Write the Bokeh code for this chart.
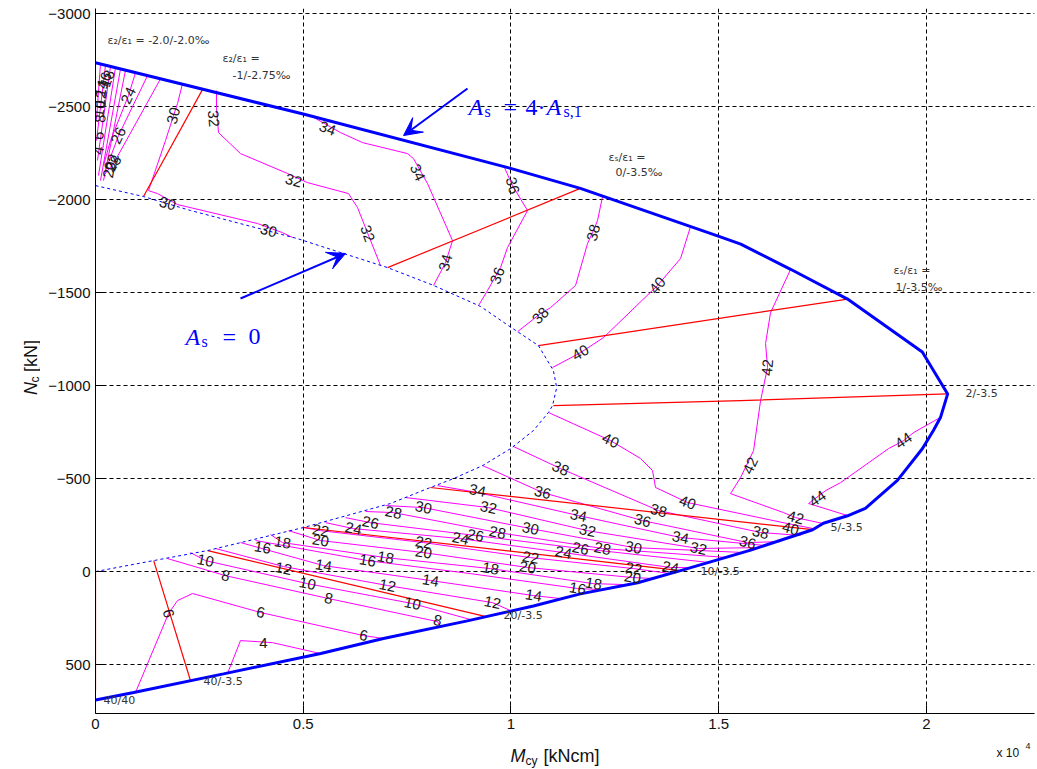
import numpy as np
from bokeh.plotting import figure
from bokeh.layouts import row, column
from bokeh.models import Range1d, FixedTicker, Label, Arrow, VeeHead, ColumnDataSource
from bokeh.core.properties import value
from bokeh.embed import file_html
from bokeh.resources import INLINE

# ---- interaction diagram, moments M_cy [kNcm] and axial forces N_c [kN] ----

# boundary for A_s = 4*A_s,1
outer_m = [0, 5000, 9950, 11670, 14970, 15530, 16730, 18100, 19900, 20510, 20340, 20170,
           19900, 19300, 18530, 18100, 17520, 17260, 15770, 14080, 13050, 11670, 10540,
           8950, 6930, 5420, 3080, 920, 0]
outer_n = [-2735, -2460, -2170, -2060, -1805, -1760, -1625, -1465, -1180, -955, -830, -760,
           -660, -490, -340, -300, -260, -225, -115, -5, 60, 120, 185,
           265, 360, 440, 550, 650, 690]

# boundary for A_s = 0
inner_m = [0, 1155, 2290, 4860, 5970, 7030, 8140, 9270, 9940, 10660, 11020, 11100, 11000,
           10900, 10540, 9990, 9320, 8620, 8060, 7100, 5010, 2700, 1400, 0]
inner_n = [-2075, -2016, -1941, -1790, -1710, -1634, -1538, -1425, -1322, -1215, -1081, -989,
           -892, -855, -758, -661, -570, -500, -452, -366, -237, -113, -59, 0]

# strain states eps_s/eps_1 (red lines)
strain_lines = {
    "-1/-2.75": ([2575, 1155], [-2591, -2016]),
    "0/-3.5": ([11670, 7030], [-2060, -1634]),
    "1/-3.5": ([18100, 10660], [-1465, -1215]),
    "2/-3.5": ([20510, 15525, 11020], [-955, -919, -892]),
    "5/-3.5": ([17260, 8060], [-225, -452]),
    "10/-3.5": ([14080, 5010], [-5, -237]),
    "20/-3.5": ([9400, 2700], [242, -113]),
    "40/-3.5": ([2287, 1400], [587, -59]),
    "40/40": ([0, 0], [640, 0]),
}

# contour lines of the reinforcement ratio, crowded corner near pure compression
fan_lines = {
    "a": ([0, 0], [-2760, -2100]),
    "b": ([120, 24], [-2728, -2430]),
    "c": ([241, 24], [-2722, -2317]),
    "d": ([361, 48], [-2715, -2210]),
    "e": ([481, 72], [-2709, -2129]),
    "f": ([602, 120], [-2702, -2102]),
    "g": ([722, 193], [-2695, -2102]),
    "24": ([963, 794, 361, 193], [-2682, -2559, -2317, -2183]),
    "26": ([1252, 554, 241], [-2666, -2344, -2156]),
    "28": ([1565, 433, 193], [-2649, -2193, -2129]),
}

# contour lines in the compression zone
upper_lines = {
    "30": ([2094, 1974, 1877, 1685, 1276, 1492, 1974, 3899, 4501, 4742],
           [-2623, -2516, -2451, -2317, -2048, -2032, -1973, -1871, -1822, -1796]),
    "32": ([2912, 2912, 2961, 3490, 4621, 5103, 6090, 6306, 6860],
           [-2586, -2494, -2360, -2247, -2140, -2091, -2032, -1957, -1645]),
    "34": ([5175, 5897, 6427, 7510, 7654, 7991, 8593, 8425, 8136],
           [-2451, -2360, -2306, -2247, -2220, -2086, -1779, -1661, -1538]),
    "36": ([9821, 10037, 10398, 9917, 9748, 9435, 9219],
           [-2183, -2075, -1941, -1742, -1634, -1511, -1430]),
    "38": ([12203, 12083, 11963, 11842, 11554, 10952, 10711, 10160],
           [-2016, -1887, -1822, -1763, -1538, -1419, -1387, -1290]),
    "40": ([14322, 14081, 13527, 12228, 11674, 11000],
           [-1855, -1683, -1538, -1258, -1177, -1097]),
    "42": ([16729, 16247, 16127, 16175, 16007, 15838, 15525, 15284, 16560, 16849, 17523],
           [-1624, -1392, -1226, -1097, -919, -650, -505, -419, -317, -290, -258]),
    "44": ([20291, 19689, 19449, 19087, 17932, 17571, 17162, 18101],
           [-823, -747, -704, -661, -478, -435, -366, -301]),
}

# contour lines in the tension zone
lower_lines = {
    "4": ([3177, 3490, 4260, 5416], [548, 371, 382, 441]),
    "6": ([963, 1757, 1974, 2335, 3972, 6451, 6932], [650, 226, 156, 118, 220, 344, 360]),
    "8": ([1733, 3129, 5608, 8232, 8304], [-70, 22, 145, 269, 296]),
    "10": ([2287, 2648, 5103, 7630, 9026], [-102, -59, 65, 172, 258]),
    "12": ([2888, 4525, 7028, 9556, 9990], [-124, -27, 75, 167, 210]),
    "14": ([3490, 5488, 8063, 10543, 11192], [-156, -32, 48, 129, 145]),
    "16": ([3851, 6547, 9026, 11602, 12155], [-167, -59, 11, 91, 97]),
    "18": ([4212, 4501, 6980, 9508, 11987, 12757], [-199, -156, -75, -16, 65, 70]),
    "20": ([4646, 5416, 7895, 10398, 12926, 13479], [-220, -167, -102, -22, 32, 38]),
    "22": ([5007, 5416, 7895, 10470, 12950, 13840], [-237, -220, -156, -75, -16, 11]),
    "24": ([5536, 6210, 8786, 11265, 13840, 14322], [-263, -231, -177, -102, -22, -21]),
    "26": ([6018, 6619, 9147, 11674, 14803], [-290, -263, -194, -124, -48]),
    "28": ([6499, 7173, 9676, 12203, 15236], [-323, -317, -210, -124, -75]),
    "30": ([6980, 7895, 10470, 12950, 15646], [-355, -344, -231, -129, -102]),
    "32": ([7462, 9459, 11842, 14514, 16007], [-398, -344, -220, -124, -129]),
    "34": ([8232, 9195, 11626, 14081, 16127], [-462, -425, -301, -183, -140]),
    "36": ([9315, 10759, 13167, 15694, 16488], [-570, -425, -274, -156, -161]),
    "38": ([10061, 11192, 13551, 16007, 16970], [-672, -554, -328, -210, -194]),
    "40": ([10904, 12396, 13118, 13407, 13479, 14249, 16656, 17330],
           [-855, -704, -608, -543, -452, -371, -258, -229]),
}

# contour level labels: text, position and rotation in degrees
label_text = ["24", "26", "28", "30", "32", "30", "30", "32", "32", "34", "34", "34",
              "36", "36", "38", "38", "40", "40", "42", "42", "44", "44", "42",
              "40", "40", "40", "38", "38", "38", "36", "36", "36", "34", "34", "34",
              "32", "32", "32", "30", "30", "30", "28", "28", "28", "26", "26", "26",
              "24", "24", "24", "24", "22", "22", "22", "22", "20", "20", "20", "20",
              "18", "18", "18", "18", "16", "16", "16", "14", "14", "14", "12", "12", "12",
              "10", "10", "10", "8", "8", "8", "6", "6", "6", "4",
              "18", "16", "14", "12", "10", "8", "6", "4", "22", "20"]
label_m = [794, 554, 433, 1877, 2840, 1733, 4164, 4766, 6547, 5584, 7751, 8425,
           10037, 9676, 11987, 10711, 13527, 11674, 16175, 15766, 19449, 17379, 16849,
           12396, 14249, 16729, 11192, 13551, 16007, 10759, 13167, 15694, 9195, 11626, 14081,
           9459, 11842, 14514, 7895, 10470, 12950, 7173, 9676, 12203, 6619, 9147, 11674,
           6210, 8786, 11265, 13840, 5416, 7895, 10470, 12950, 5416, 7895, 10398, 12926,
           4501, 6980, 9508, 11987, 4020, 6547, 11602, 5488, 8063, 10543, 4525, 7028, 9556,
           2648, 5103, 7630, 3129, 5608, 8232, 1757, 3972, 6451, 4044,
           289, 217, 144, 120, 96, 120, 72, 72, 400, 330]
label_n = [-2559, -2344, -2193, -2451, -2435, -1978, -1833, -2102, -1817, -2382, -2145, -1661,
           -2075, -1591, -1822, -1376, -1538, -1177, -1097, -570, -704, -392, -290,
           -704, -371, -231, -554, -328, -210, -425, -274, -156, -435, -301, -183,
           -344, -220, -124, -344, -231, -129, -317, -210, -124, -263, -194, -124,
           -231, -177, -102, -22, -220, -156, -75, -16, -167, -102, -22, 32,
           -156, -75, -16, 65, -129, -59, 91, -32, 48, 129, -16, 75, 167,
           -59, 65, 172, 22, 145, 263, 226, 220, 344, 382,
           -2650, -2640, -2597, -2543, -2489, -2435, -2344, -2263, -2200, -2160]
label_angle = [65, 65, 55, 75, -85, -15, -15, -15, -70, -20, -65, 75,
               -75, 70, 75, 45, 50, 30, 85, 65, 35, 35, -15,
               -25, -20, -15, -25, -15, -15, -15, -15, -15, -12, -12, -12,
               -12, -12, -12, -12, -12, -12, -12, -12, -12, -12, -12, -12,
               -12, -12, -12, -12, -10, -10, -10, -10, -10, -10, -10, -10,
               -10, -10, -10, -10, -10, -10, -10, -10, -10, -10, -12, -12, -12,
               -12, -12, -12, -12, -12, -12, -75, -12, -12, 0,
               70, 70, 75, 80, 80, 85, 80, 80, 75, 80]

# strain annotations along the boundary
edge_text = ["2/-3.5", "5/-3.5", "10/-3.5", "20/-3.5", "40/-3.5", "40/40"]
edge_m = [20941, 17691, 14562, 9821, 2600, 193]
edge_n = [-957, -237, 0, 237, 591, 694]

x_ticks = [0, 5000, 10000, 15000, 20000]
x_tick_labels = ["0", "0.5", "1", "1.5", "2"]
y_ticks = [-3000, -2500, -2000, -1500, -1000, -500, 0, 500]

MAGENTA = "#ff00ff"
RED = "#ff0000"
BLUE = "#0000ff"
LABEL_FONT = "Liberation Sans"

p = figure(frame_width=939, frame_height=705,
           x_range=Range1d(0, 22600), y_range=Range1d(763, -3027),
           output_backend="svg", toolbar_location=None,
           min_border_left=55, min_border_right=3, min_border_top=8, min_border_bottom=24)
p.outline_line_color = None
p.background_fill_color = "white"
p.border_fill_color = "white"

# axes
p.xaxis.ticker = FixedTicker(ticks=x_ticks)
p.xaxis.major_label_overrides = dict(zip(x_ticks, x_tick_labels))
p.yaxis.ticker = FixedTicker(ticks=y_ticks)
for ax in (p.xaxis[0], p.yaxis[0]):
    ax.axis_line_color = "black"
    ax.axis_line_width = 1
    ax.major_tick_in = 8
    ax.major_tick_out = 0
    ax.minor_tick_line_color = None
    ax.major_tick_line_color = "black"
    ax.major_label_text_font = LABEL_FONT
    ax.major_label_text_font_size = "15px"
    ax.major_label_text_color = "#111111"
    ax.major_label_standoff = 5

p.xgrid[0].ticker = FixedTicker(ticks=x_ticks)
p.ygrid[0].ticker = FixedTicker(ticks=y_ticks)
for g in (p.xgrid[0], p.ygrid[0]):
    g.grid_line_color = "black"
    g.grid_line_dash = "4 3"
    g.grid_line_width = 1
    g.grid_line_alpha = 1

# contour lines
for group in (fan_lines, upper_lines, lower_lines):
    for key, (ms, ns) in group.items():
        p.line(ms, ns, line_color=MAGENTA, line_width=1)

# strain state lines
for key, (ms, ns) in strain_lines.items():
    p.line(ms, ns, line_color=RED, line_width=1.2)

# boundaries
p.line(inner_m, inner_n, line_color=BLUE, line_width=1, line_dash="3 3")
p.line(outer_m, outer_n, line_color=BLUE, line_width=3)

# contour labels
lab_src = ColumnDataSource(dict(m=label_m, n=label_n, t=label_text,
                                a=list(np.deg2rad(label_angle))))
p.text(x="m", y="n", text="t", angle="a", source=lab_src,
       text_font=value(LABEL_FONT), text_font_size="15px",
       text_align="center", text_baseline="middle", text_color="#1a1a1a")

edge_src = ColumnDataSource(dict(m=edge_m, n=edge_n, t=edge_text))
p.text(x="m", y="n", text="t", source=edge_src,
       text_font=value("DejaVu Sans"), text_font_size="11px",
       text_align="left", text_baseline="middle", text_color="#333333")

# strain state captions
captions = [
    ("ε₂/ε₁ = -2.0/-2.0‰", 289, -2855),
    ("ε₂/ε₁ =", 3057, -2758),
    ("-1/-2.75‰", 3298, -2667),
    ("εₛ/ε₁ =", 12348, -2226),
    ("0/-3.5‰", 12516, -2145),
    ("εₛ/ε₁ =", 19208, -1618),
    ("1/-3.5‰", 19256, -1527),
]
for txt, xm, yn in captions:
    p.add_layout(Label(x=xm, y=yn, text=txt, text_font="DejaVu Sans",
                       text_font_size="11px", text_color="#333333",
                       text_align="left", text_baseline="middle"))

# boundary captions with arrows
def serif(txt, xm, yn, size, italic=False):
    p.add_layout(Label(x=xm, y=yn, text=txt, text_font="Liberation Serif",
                       text_font_size=size, text_color=BLUE,
                       text_font_style="italic" if italic else "normal",
                       text_align="left", text_baseline="alphabetic"))

serif("A", 8978, -2500, "24px", True)
serif("s", 9363, -2473, "16px")
serif("=", 9821, -2500, "24px")
serif("4·", 10350, -2500, "24px")
serif("A", 10856, -2500, "24px", True)
serif("s,1", 11265, -2473, "16px")

serif("A", 2166, -1263, "24px", True)
serif("s", 2552, -1236, "16px")
serif("=", 3057, -1263, "24px")
serif("0", 3683, -1263, "24px")

p.add_layout(Arrow(end=VeeHead(size=18, fill_color=BLUE, line_color=BLUE, line_width=1),
                   x_start=8954, y_start=-2597, x_end=7414, y_end=-2344,
                   line_color=BLUE, line_width=2))
p.add_layout(Arrow(end=VeeHead(size=18, fill_color=BLUE, line_color=BLUE, line_width=1),
                   x_start=3490, y_start=-1468, x_end=6018, y_end=-1710,
                   line_color=BLUE, line_width=2))


# axis titles live in two thin strips next to the plot, in pixel coordinates
def strip(width, height):
    s = figure(width=width, height=height, x_range=Range1d(0, width),
               y_range=Range1d(height, 0), output_backend="svg", toolbar_location=None,
               x_axis_type=None, y_axis_type=None, min_border=0)
    s.outline_line_color = None
    s.grid.visible = False
    s.background_fill_color = "white"
    s.border_fill_color = "white"
    return s


def strip_text(s, txt, x, y, size, italic=False, angle=0.0):
    s.text(x=[x], y=[y], text=[txt], angle=angle,
           text_font=value(LABEL_FONT), text_font_size=size,
           text_font_style="italic" if italic else "normal",
           text_color="#111111", text_align="left", text_baseline="alphabetic")


ylab = strip(40, 737)
strip_text(ylab, "N", 30, 404, "18px", True, np.pi / 2)
strip_text(ylab, "c", 34, 391, "12px", False, np.pi / 2)
strip_text(ylab, "[kN]", 30, 380, "18px", False, np.pi / 2)

xlab = strip(1037, 32)
strip_text(xlab, "M", 510, 18, "18px", True)
strip_text(xlab, "cy", 525, 23, "12px")
strip_text(xlab, "[kNcm]", 543, 18, "18px")
strip_text(xlab, "x 10", 996, 15, "12px")
strip_text(xlab, "4", 1025, 8, "9px")

page = column(row(ylab, p, spacing=0), xlab, spacing=0)

open("out.html", "w").write(file_html(page, INLINE))
